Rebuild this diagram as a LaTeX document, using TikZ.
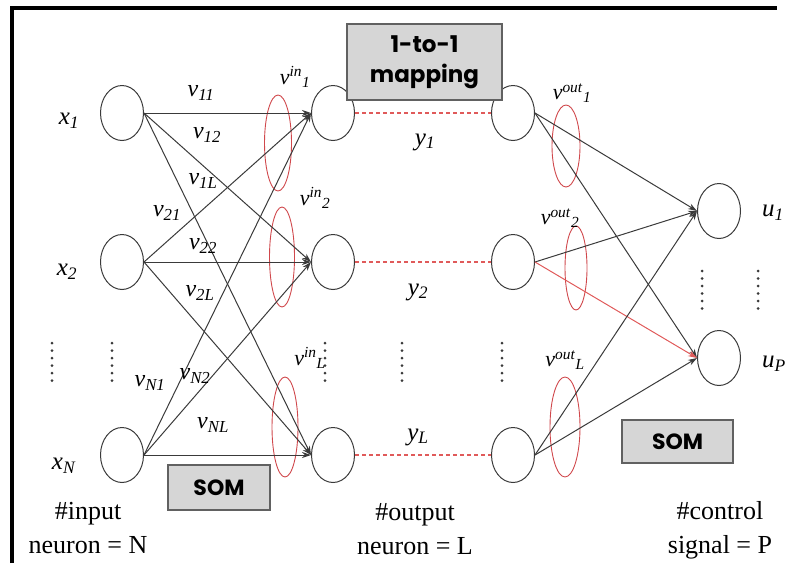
\documentclass[tikz,border=0pt]{standalone}
\usepackage{fontspec}
\setmainfont{Liberation Serif}
\newfontfamily\boxfont{Poppins}
\usetikzlibrary{shapes.geometric,arrows.meta}
\definecolor{linegray}{HTML}{3A3A3A}
\definecolor{ellred}{HTML}{D0484C}
\definecolor{dashred}{HTML}{E05A5A}
\definecolor{boxgray}{HTML}{D6D6D6}
\newcommand\wlab[1]{\textit{v}\textsubscript{\textit{#1}}}
\newcommand\vio[2]{\textit{v}\textsuperscript{\textit{#1}}\textsubscript{\textit{#2}}}
\begin{document}
\begin{tikzpicture}[x=1pt,y=-1pt,
  neuron/.style={ellipse,draw=linegray,line width=1pt,minimum width=43pt,minimum height=55pt,inner sep=0pt},
  conn/.style={draw=linegray,line width=1pt,-{Stealth[length=9pt,width=6pt]}},
  redconn/.style={draw=dashred,line width=1pt,-{Stealth[length=9pt,width=6pt]}},
  oneone/.style={draw=dashred,line width=1.3pt,dash pattern=on 4pt off 3pt},
  grp/.style={draw=ellred,line width=0.9pt},
  som/.style={draw=linegray!80,line width=1.5pt,fill=boxgray,inner sep=0pt,font=\boxfont\bfseries\fontsize{22}{26}\selectfont},
  wl/.style={inner sep=0pt,font=\fontsize{24}{26}\selectfont},
  xl/.style={inner sep=0pt,font=\fontsize{25}{28}\selectfont},
  gl/.style={inner sep=0pt,font=\fontsize{22}{24}\selectfont},
  btxt/.style={inner sep=0pt,align=center,font=\fontsize{26}{34}\selectfont},
  dotcol/.style={draw=linegray,line width=3pt,line cap=round,dash pattern=on 0pt off 7.5pt}
]
\useasboundingbox (0,0) rectangle (786,563);
% frame
\draw[black,line width=3.5pt] (12,563) -- (12,8) -- (777,8);

% red group ellipses
\draw[grp] (278,143) ellipse [x radius=13.5,y radius=48];
\draw[grp] (282,257) ellipse [x radius=12.5,y radius=50];
\draw[grp] (285,427) ellipse [x radius=13,y radius=50];
\draw[grp] (566,146) ellipse [x radius=14,y radius=41];
\draw[grp] (576,268) ellipse [x radius=11,y radius=42];
\draw[grp] (565,427) ellipse [x radius=15,y radius=50];

% neurons
\node[neuron] (x1) at (122,113) {};
\node[neuron] (x2) at (122,262) {};
\node[neuron] (xN) at (122,455) {};
\node[neuron] (h1) at (333,113) {};
\node[neuron] (h2) at (333,262) {};
\node[neuron] (hL) at (333,455) {};
\node[neuron] (o1) at (513,113) {};
\node[neuron] (o2) at (513,262) {};
\node[neuron] (oL) at (513,455) {};
\node[neuron] (u1) at (719,211) {};
\node[neuron] (uP) at (719,358) {};

% input -> hidden
\foreach \s in {x1,x2,xN}{
  \foreach \t in {h1,h2,hL}{
    \draw[conn] (\s.east) -- (\t.west);
  }
}
% hidden -> output (1-to-1)
\draw[oneone] (h1.east) -- (o1.west);
\draw[oneone] (h2.east) -- (o2.west);
\draw[oneone] (hL.east) -- (oL.west);
% output -> control
\draw[conn] (o1.east) -- (u1.west);
\draw[conn] (o1.east) -- (uP.west);
\draw[conn] (o2.east) -- (u1.west);
\draw[redconn] (o2.east) -- (uP.west);
\draw[conn] (oL.east) -- (u1.west);
\draw[conn] (oL.east) -- (uP.west);

% dotted columns
\draw[dotcol] (52,343) -- (52,382);
\draw[dotcol] (112,343) -- (112,382);
\draw[dotcol] (325,343) -- (325,382);
\draw[dotcol] (402,343) -- (402,382);
\draw[dotcol] (502,343) -- (502,382);
\draw[dotcol] (702,271) -- (702,310);
\draw[dotcol] (758,271) -- (758,310);

% neuron labels
\node[xl] (lx1) at (69,121) {\textit{x}\textsubscript{\textit{1}}};
\node[xl] (lx2) at (67,272) {\textit{x}\textsubscript{\textit{2}}};
\node[xl] (lxN) at (64,466) {\textit{x}\textsubscript{\textit{N}}};
\node[xl] (ly1) at (425,142) {\textit{y}\textsubscript{\textit{1}}};
\node[xl] (ly2) at (418,292) {\textit{y}\textsubscript{\textit{2}}};
\node[xl] (lyL) at (418,437) {\textit{y}\textsubscript{\textit{L}}};
\node[xl,anchor=west] (lu1) at (762,213) {\textit{u}\textsubscript{\textit{1}}};
\node[xl,anchor=west] (luP) at (762,364) {\textit{u}\textsubscript{\textit{P}}};

% weight labels
\node[wl] (w11) at (201,93) {\wlab{11}};
\node[wl] (w12) at (207,135) {\wlab{12}};
\node[wl] (w1L) at (203,181) {\wlab{1L}};
\node[wl] (w21) at (167,213) {\wlab{21}};
\node[wl] (w22) at (203,246) {\wlab{22}};
\node[wl] (w2L) at (200,293) {\wlab{2L}};
\node[wl] (wN1) at (150,383) {\wlab{N1}};
\node[wl] (wN2) at (195,376) {\wlab{N2}};
\node[wl] (wNL) at (213,425) {\wlab{NL}};

% group labels
\node[gl] (gi1) at (295,77) {\vio{in}{1}};
\node[gl] (gi2) at (315,198) {\vio{in}{2}};
\node[gl] (giL) at (310,358) {\vio{in}{L}};
\node[gl] (go1) at (572,93) {\vio{out}{1}};
\node[gl] (go2) at (560,218) {\vio{out}{2}};
\node[gl] (goL) at (565,360) {\vio{out}{L}};

% boxes
\node[som,minimum width=155pt,minimum height=76pt,align=center,font=\boxfont\bfseries\fontsize{23}{30}\selectfont] (map) at (424.5,62) {1-to-1\\mapping};
\node[som,minimum width=102pt,minimum height=45pt] (som1) at (219,487.5) {SOM};
\node[som,minimum width=111pt,minimum height=43pt] (som2) at (677.5,441.5) {SOM};

% bottom captions
\node[btxt] (c1) at (88,528) {\#input\\neuron = N};
\node[btxt] (c2) at (415,529) {\#output\\neuron = L};
\node[btxt] (c3) at (720,530) {\#control\\signal = P};
\end{tikzpicture}
\end{document}
